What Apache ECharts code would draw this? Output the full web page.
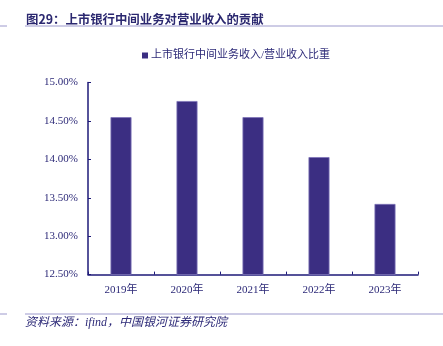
<!DOCTYPE html>
<html>
<head>
<meta charset="utf-8">
<script src="https://cdn.jsdelivr.net/npm/echarts@6/dist/echarts.min.js"></script>
<style>
html,body{margin:0;padding:0;background:#fff;}
#c{width:443px;height:346px;}
</style>
</head>
<body>
<div id="c"></div>
<script>
const titleText = '图29：上市银行中间业务对营业收入的贡献';
const sourceText = '资料来源：ifind，中国银河证券研究院';
const seriesName = '上市银行中间业务收入/营业收入比重';
const categories = ['2019年', '2020年', '2021年', '2022年', '2023年'];
const values = [14.55, 14.76, 14.55, 14.03, 13.42];
const yTicks = [12.5, 13.0, 13.5, 14.0, 14.5, 15.0];

const navy = '#2d2a78';
const lineCol = '#9c99cc';
const serif = '"Liberation Serif","Times New Roman","Noto Sans CJK SC",serif';

const chart = echarts.init(document.getElementById('c'), null, {renderer: 'canvas'});
chart.setOption({
  animation: false,
  backgroundColor: '#fff',
  title: {
    text: titleText,
    left: 21, top: 8,
    textStyle: {fontSize: 12.4, fontWeight: 'bold', color: '#2b2870', fontFamily: '"Noto Sans CJK SC",sans-serif'}
  },
  legend: {
    data: [seriesName],
    top: 45, left: 137,
    icon: 'rect', itemWidth: 6, itemHeight: 6, itemGap: 4,
    itemStyle: {borderWidth: 0},
    textStyle: {fontSize: 11, color: navy, fontFamily: serif, padding: [0,0,0,-2]}
  },
  graphic: [
    {type: 'line', shape: {x1: 0, y1: 26, x2: 7, y2: 26}, style: {stroke: lineCol, lineWidth: 1}},
    {type: 'line', shape: {x1: 25, y1: 26, x2: 443, y2: 26}, style: {stroke: lineCol, lineWidth: 1}},
    {type: 'line', shape: {x1: 0, y1: 314, x2: 7, y2: 314}, style: {stroke: lineCol, lineWidth: 1}},
    {type: 'line', shape: {x1: 25, y1: 314, x2: 443, y2: 314}, style: {stroke: lineCol, lineWidth: 1}},
    {type: 'text', left: 25, top: 317, style: {text: sourceText, fill: navy, font: 'italic 12px "Liberation Serif","Noto Sans CJK SC",serif'}}
  ],
  grid: {left: 88, right: 25, top: 82.6, bottom: 71.4, containLabel: false},
  xAxis: {
    type: 'category',
    data: categories,
    axisLine: {lineStyle: {color: '#1e1a78', width: 1.5}},
    axisTick: {show: true, inside: true, length: 3, lineStyle: {color: '#1e1a78'}},
    axisLabel: {fontSize: 11, color: navy, fontFamily: serif, margin: 10}
  },
  yAxis: {
    type: 'value',
    min: 12.5, max: 15, interval: 0.5,
    axisLine: {show: true, lineStyle: {color: '#1e1a78', width: 1.5}},
    axisTick: {show: true, inside: true, length: 3, lineStyle: {color: '#1e1a78'}},
    splitLine: {show: false},
    axisLabel: {fontSize: 11, color: navy, fontFamily: serif, margin: 10,
      formatter: v => v.toFixed(2) + '%'}
  },
  series: [{
    name: seriesName,
    type: 'bar',
    data: values,
    barWidth: 21,
    itemStyle: {color: '#3b2e82', borderColor: '#7d74b8', borderWidth: 0.8}
  }]
});
</script>
</body>
</html>
